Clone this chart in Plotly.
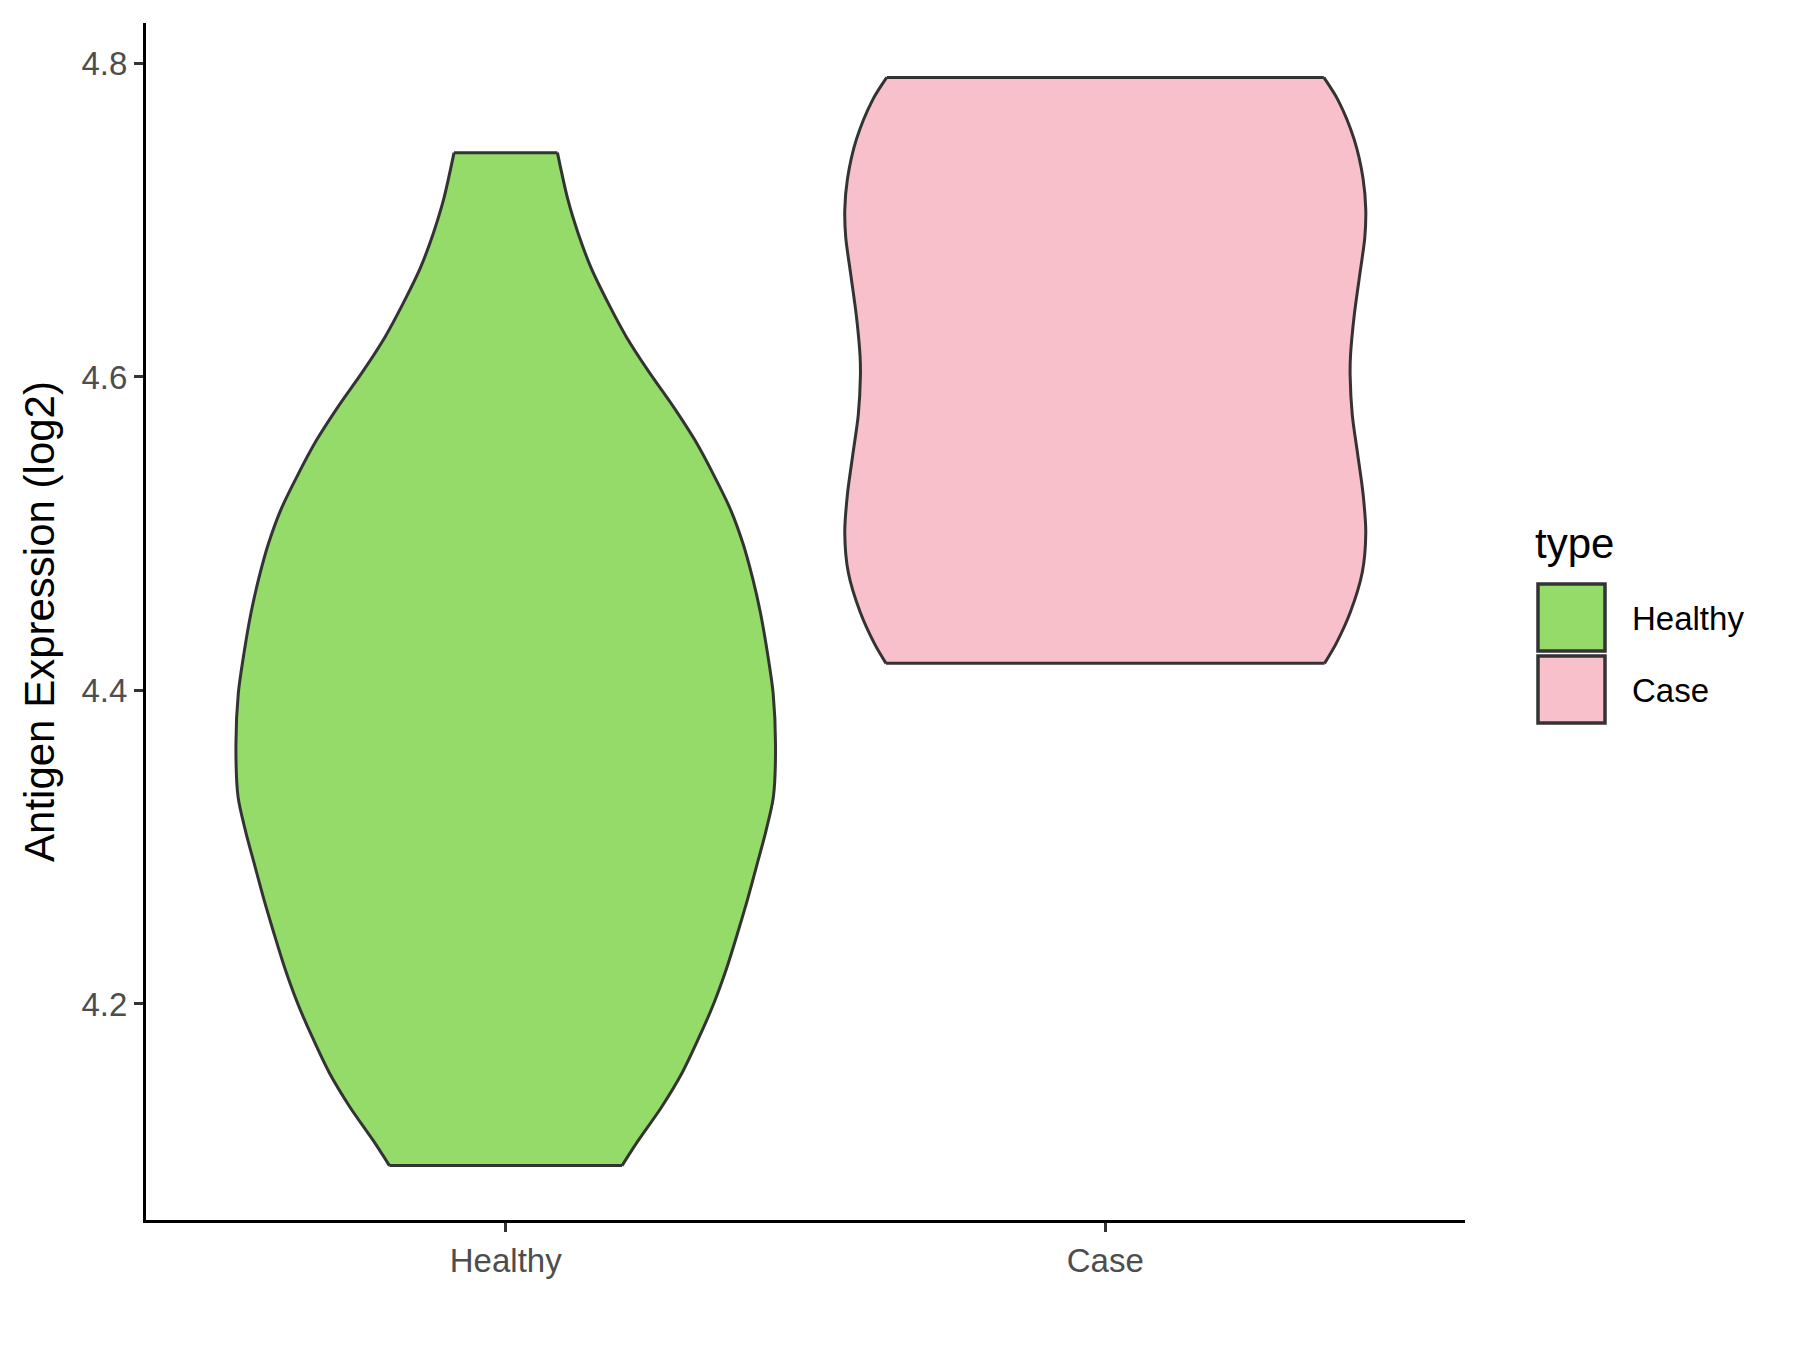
import plotly.graph_objects as go

# categories and colours
categories = ["Healthy", "Case"]
fills = ["#94DB6A", "#F7C0CB"]

# violin outlines: value (log2) and half-width (in category units)
healthy_y = [4.0969, 4.1123, 4.1343, 4.1563, 4.1783, 4.2003, 4.2223, 4.2443, 4.2663,
             4.2883, 4.3103, 4.3323, 4.3654, 4.3984, 4.4204, 4.4493, 4.4713, 4.4934,
             4.5154, 4.5374, 4.5594, 4.5814, 4.6034, 4.6254, 4.6474, 4.6694, 4.6914,
             4.7134, 4.7431]
healthy_w = [0.194, 0.220, 0.260, 0.2945, 0.322, 0.347, 0.368, 0.386, 0.403,
             0.4186, 0.434, 0.4465, 0.450, 0.446, 0.438, 0.425, 0.412, 0.396,
             0.375, 0.347, 0.316, 0.279, 0.2386, 0.2015, 0.1705, 0.1426, 0.121,
             0.1035, 0.0862]

case_y = [4.4173, 4.4299, 4.4502, 4.4752, 4.5005, 4.5254, 4.5507, 4.5757, 4.6010,
          4.6134, 4.6385, 4.6637, 4.6888, 4.7065, 4.7265, 4.7517, 4.7768, 4.7911]
case_w = [0.3657, 0.385, 0.409, 0.4286, 0.4345, 0.430, 0.421, 0.412, 0.4084,
          0.409, 0.415, 0.4239, 0.4328, 0.4345, 0.430, 0.415, 0.388, 0.3645]

y_ticks = [4.2, 4.4, 4.6, 4.8]

profiles = [(healthy_y, healthy_w), (case_y, case_w)]

fig = go.Figure()
for i, (ys, ws) in enumerate(profiles):
    pos = i + 1
    right = [pos + w for w in ws]
    left = [pos - w for w in ws]
    # filled body, no outline
    fig.add_trace(go.Scatter(
        x=right + left[::-1] + [right[0]], y=list(ys) + list(ys[::-1]) + [ys[0]],
        mode="lines", fill="toself", fillcolor=fills[i], line=dict(width=0),
        name=categories[i], showlegend=False, hoverinfo="skip"
    ))
    # outline: smooth sides, straight trimmed ends
    ox = right + [None] + left + [None] + [left[-1], right[-1]] + [None] + [left[0], right[0]]
    oy = list(ys) + [None] + list(ys) + [None] + [ys[-1], ys[-1]] + [None] + [ys[0], ys[0]]
    fig.add_trace(go.Scatter(
        x=ox, y=oy, mode="lines", connectgaps=False,
        line=dict(color="#333333", width=3, shape="spline", smoothing=0.8),
        showlegend=False, hoverinfo="skip"
    ))

lo = min(healthy_y + case_y)
hi = max(healthy_y + case_y)
pad = (hi - lo) * 0.05

FONT = "Liberation Sans, Arial, sans-serif"
axis_font = dict(family=FONT, size=33, color="#4D4D4D")

fig.update_xaxes(
    range=[0.4, 2.6], tickvals=[1, 2], ticktext=categories,
    showline=True, linecolor="black", linewidth=3, mirror=False,
    ticks="outside", ticklen=9, tickwidth=2.5, tickcolor="#333333",
    showgrid=False, zeroline=False, tickfont=axis_font
)
fig.update_yaxes(
    range=[lo - pad, hi + pad], tickvals=y_ticks, ticktext=[f"{t:.1f}" for t in y_ticks],
    showline=True, linecolor="black", linewidth=3,
    ticks="outside", ticklen=9, tickwidth=2.5, tickcolor="#333333",
    showgrid=False, zeroline=False, tickfont=axis_font,
    title=dict(text="Antigen Expression (log2)", standoff=14,
               font=dict(family=FONT, size=42, color="black"))
)

# legend drawn by hand to get ggplot-style big keys (page pixel positions, body margin 8)
L, R, T, B = 138, 343, 15, 138
OFF = 8
pw, ph = 1800 - L - R, 1350 - T - B


def px(x):
    return (x - OFF - L) / pw


def py(y):
    return (1350 - B - (y - OFF)) / ph


fig.add_annotation(x=px(1533), y=py(543), xref="paper", yref="paper", text="type",
                   showarrow=False, xanchor="left", yanchor="middle",
                   font=dict(family=FONT, size=42, color="black"))
key_tops = [584, 656]
key_mid = [618, 690]
for i, cat in enumerate(categories):
    fig.add_shape(type="rect", xref="paper", yref="paper",
                  x0=px(1538), x1=px(1605), y0=py(key_tops[i] + 67), y1=py(key_tops[i]),
                  fillcolor=fills[i], line=dict(color="#333333", width=3.5))
    fig.add_annotation(x=px(1630), y=py(key_mid[i]), xref="paper", yref="paper",
                       text=cat, showarrow=False, xanchor="left", yanchor="middle",
                       font=dict(family=FONT, size=33, color="black"))

fig.update_layout(
    width=1800, height=1350,
    margin=dict(l=L, r=R, t=T, b=B),
    plot_bgcolor="white", paper_bgcolor="white",
    showlegend=False
)

fig.write_html("out.html")
